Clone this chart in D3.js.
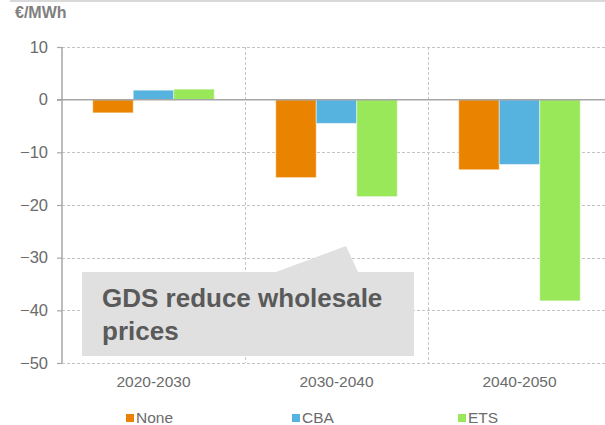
<!DOCTYPE html>
<html>
<head>
<meta charset="utf-8">
<script src="https://cdn.jsdelivr.net/npm/d3@7"></script>
<style>
  html, body { margin: 0; padding: 0; background: #fff; }
  svg { display: block; font-family: "Liberation Sans", Arial, sans-serif; }
</style>
</head>
<body>
<svg id="chart" width="605" height="425"></svg>
<script>
const categories = ["2020-2030", "2030-2040", "2040-2050"];
const seriesNames = ["None", "CBA", "ETS"];
const noneValues = [-2.5, -14.8, -13.3];
const cbaValues = [1.8, -4.5, -12.3];
const etsValues = [2.0, -18.4, -38.2];
const yTicks = [10, 0, -10, -20, -30, -40, -50];
const colors = ["#EA8400", "#56B2DE", "#99E85A"];
const unitLabel = "€/MWh";
const noteLines = ["GDS reduce wholesale", "prices"];

const FONT = "'Liberation Sans', Arial, sans-serif";
const series = [noneValues, cbaValues, etsValues];
const svg = d3.select("#chart");

const margin = { left: 62, top: 47, bottom: 363, right: 611 };
const x = d3.scaleBand().domain(categories).range([margin.left, margin.right]).padding(0);
const xInner = d3.scaleBand().domain(seriesNames)
  .range([x.bandwidth() * 0.168, x.bandwidth() * 0.832]).padding(0);
const y = d3.scaleLinear().domain([-50, 10]).range([margin.bottom, margin.top]);

// top rule
svg.append("line").attr("x1", 10).attr("x2", 605).attr("y1", 1).attr("y2", 1)
  .attr("stroke", "#d9d9d9").attr("stroke-width", 2);

// unit label
svg.append("text").attr("x", 15).attr("y", 18).text(unitLabel)
  .attr("font-family", FONT)
  .attr("font-size", 16).attr("font-weight", "bold").attr("fill", "#7f7f7f");

// horizontal grid
svg.append("g").selectAll("line").data(yTicks.filter(d => d !== 0)).join("line")
  .attr("x1", margin.left).attr("x2", 605)
  .attr("y1", d => Math.round(y(d)) + 0.5).attr("y2", d => Math.round(y(d)) + 0.5)
  .attr("stroke", "#c4c4c4").attr("stroke-dasharray", "3,2").attr("stroke-width", 1);

// vertical grid at category boundaries
svg.append("g").selectAll("line").data(categories.slice(1)).join("line")
  .attr("x1", d => Math.round(x(d)) + 0.5).attr("x2", d => Math.round(x(d)) + 0.5)
  .attr("y1", margin.top).attr("y2", margin.bottom)
  .attr("stroke", "#c4c4c4").attr("stroke-dasharray", "3,2").attr("stroke-width", 1);

// bars
const groups = svg.append("g").selectAll("g").data(categories).join("g")
  .attr("transform", d => `translate(${x(d)},0)`);
groups.selectAll("rect")
  .data((c, i) => seriesNames.map((s, j) => ({ s, j, v: series[j][i] })))
  .join("rect")
  .attr("x", d => xInner(d.s))
  .attr("width", xInner.bandwidth())
  .attr("y", d => y(Math.max(0, d.v)))
  .attr("height", d => Math.abs(y(d.v) - y(0)))
  .attr("fill", d => colors[d.j])
  .attr("stroke", "rgba(255,255,255,0.45)").attr("stroke-width", 1);

// zero line
svg.append("line").attr("x1", 57).attr("x2", 605)
  .attr("y1", y(0)).attr("y2", y(0))
  .attr("stroke", "#a6a6a6").attr("stroke-width", 1.5);

// y axis
const yAxis = d3.axisLeft(y).tickValues(yTicks).tickSize(5).tickPadding(9).tickFormat(d3.format("d"));
const ya = svg.append("g").attr("transform", `translate(${margin.left},0)`).call(yAxis);
ya.select(".domain").attr("stroke", "#a6a6a6").attr("stroke-width", 1.5).attr("d", `M-0,${margin.top}V${margin.bottom}`);
ya.selectAll(".tick line").attr("stroke", "#a6a6a6").attr("stroke-width", 1.2);
ya.selectAll(".tick text").attr("fill", "#6b6b6b").attr("font-size", 16.5)
  .attr("font-family", FONT);

// x axis labels
const xAxis = d3.axisBottom(x).tickSize(0).tickPadding(0);
const xa = svg.append("g").attr("transform", `translate(0,${margin.bottom})`).call(xAxis);
xa.select(".domain").remove();
xa.selectAll(".tick text").attr("fill", "#6b6b6b").attr("font-size", 15.5).attr("dy", 0).attr("y", 24)
  .attr("font-family", FONT);

// annotation callout
const note = svg.append("g");
note.append("path")
  .attr("d", "M82,272 H276 L346,246 L358,272 H414 V356 H82 Z")
  .attr("fill", "#e0e0e0");
note.selectAll("text").data(noteLines).join("text")
  .attr("x", 102).attr("y", (d, i) => 307 + i * 33)
  .text(d => d)
  .attr("font-family", FONT)
  .attr("font-size", 26).attr("font-weight", "bold").attr("fill", "#5a5a5a");

// legend
const legend = svg.append("g").selectAll("g").data(seriesNames).join("g")
  .attr("transform", (d, i) => `translate(${126 + i * 166},414)`);
legend.append("rect").attr("width", 8).attr("height", 8).attr("fill", (d, i) => colors[i]);
legend.append("text").attr("x", 10).attr("y", 9).text(d => d)
  .attr("font-family", FONT)
  .attr("font-size", 15.5).attr("fill", "#6b6b6b");
</script>
</body>
</html>
